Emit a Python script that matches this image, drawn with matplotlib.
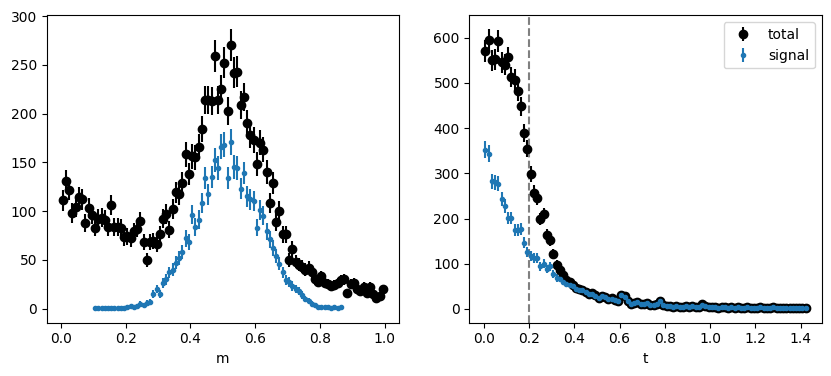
import numpy as np
import matplotlib
matplotlib.use("Agg")
import matplotlib.pyplot as plt

# mass histogram: 100 bins on [0, 1]
m_edges = np.linspace(0, 1, 101)
m_total = [111, 131, 122, 98, 104, 114, 112, 88, 103, 96,
           83, 92, 93, 91, 84, 106, 84, 84, 83, 73,
           74, 72, 79, 82, 90, 68, 50, 68, 69, 66,
           76, 92, 97, 81, 102, 119, 117, 129, 158, 138,
           156, 155, 166, 184, 214, 214, 213, 259, 214, 225,
           252, 203, 270, 242, 243, 209, 217, 190, 178, 173,
           148, 170, 163, 140, 108, 129, 89, 100, 76, 76,
           50, 61, 48, 45, 43, 40, 42, 37, 30, 27,
           33, 26, 25, 23, 24, 26, 29, 30, 16, 25,
           26, 20, 18, 22, 16, 22, 15, 11, 13, 20]
# signal only filled for bins 10..86
m_sig_first = 10
m_signal = [1, 0.5, 0.5, 0.5, 1, 0.5, 0.5, 1, 1, 1,
            2, 3, 2, 3, 5, 4, 6, 7, 15, 20,
            15, 26, 30, 37, 40, 47, 52, 58, 72, 68,
            96, 84, 91, 108, 134, 117, 135, 152, 144, 166,
            168, 134, 171, 145, 144, 123, 139, 115, 112, 110,
            83, 101, 95, 79, 71, 62, 54, 46, 37, 29,
            27, 23, 20, 18, 14, 10, 8, 5, 4, 2,
            2, 1.5, 1.5, 1, 1.5, 1, 1.5]

# decay time histogram: 100 bins on [0, 1.43]
t_edges = np.linspace(0, 1.43, 101)
t_total = [570, 594, 550, 552, 592, 545, 540, 556, 513, 507,
           481, 448, 389, 354, 299, 257, 246, 199, 209, 164,
           152, 122, 98, 87, 75, 65, 60, 52, 46, 44,
           43, 38, 33, 35, 30, 25, 29, 27, 22, 24,
           20, 18, 31, 28, 18, 12, 14, 16, 12, 10,
           14, 9, 8, 12, 18, 8, 6, 7, 5, 6,
           5, 4, 6, 5, 7, 4, 5, 10, 6, 4,
           5, 4, 3, 4, 5, 3, 4, 3, 4, 3,
           3, 4, 3, 2, 3, 4, 3, 2, 3, 4,
           3, 2, 3, 3, 2, 3, 2, 3, 3, 2]
t_signal = [352, 343, 282, 280, 277, 243, 227, 201, 201, 175,
            174, 176, 146, 125, 118, 113, 113, 94, 100, 88,
            94, 78, 69, 67, 60, 55, 53, 50, 45, 43,
            42, 37, 33, 34, 29, 25, 28, 26, 22, 23,
            20, 18, 30, 27, 17, 12, 14, 15, 12, 10,
            13, 9, 8, 11, 17, 8, 6, 7, 5, 6,
            5, 4, 6, 5, 7, 4, 5, 9, 6, 4,
            5, 4, 3, 4, 5, 3, 4, 3, 4, 3,
            3, 4, 3, 2, 3, 4, 3, 2, 3, 4,
            3, 2, 3, 3, 2, 3, 2, 3, 3, 2]

m_cx = 0.5 * (m_edges[1:] + m_edges[:-1])
t_cx = 0.5 * (t_edges[1:] + t_edges[:-1])
m_total = np.array(m_total, dtype=float)
m_signal = np.array(m_signal, dtype=float)
t_total = np.array(t_total, dtype=float)
t_signal = np.array(t_signal, dtype=float)
m_sig_cx = m_cx[m_sig_first:m_sig_first + len(m_signal)]

fig, ax = plt.subplots(1, 2, figsize=(8.31, 3.76), dpi=100)
fig.subplots_adjust(left=0.0562, right=0.9888, bottom=0.1418, top=0.9593, wspace=0.2)

plt.sca(ax[0])
plt.errorbar(m_cx, m_total, m_total ** 0.5, fmt="ok", label="total")
plt.errorbar(m_sig_cx, m_signal, m_signal ** 0.5, fmt=".", label="signal")
plt.xlabel("m")

plt.sca(ax[1])
plt.errorbar(t_cx, t_total, t_total ** 0.5, fmt="ok", label="total")
plt.errorbar(t_cx, t_signal, t_signal ** 0.5, fmt=".", label="signal")
plt.axvline(0.2, ls="--", color="0.5")
plt.legend()
plt.xlabel("t")

plt.savefig("out.png")
